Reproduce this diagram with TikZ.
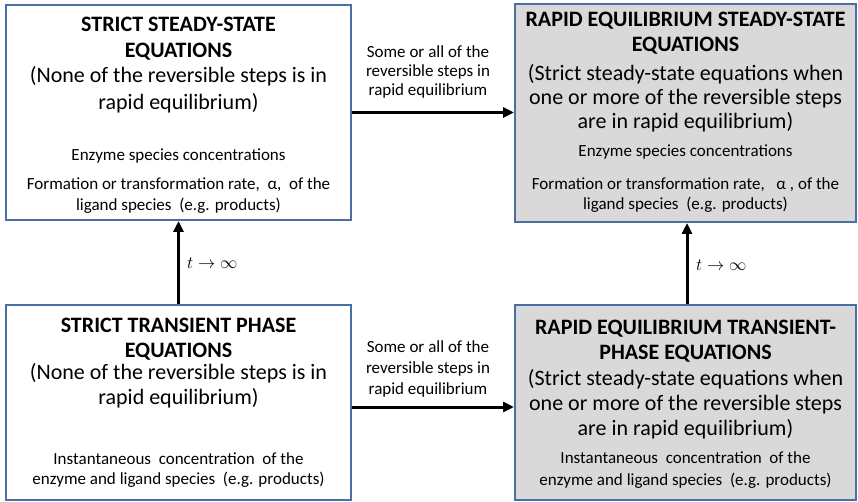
\documentclass[tikz,border=0pt]{standalone}
\usepackage{fontspec}
\setmainfont{Carlito}
\usetikzlibrary{arrows.meta,calc}
\definecolor{boxline}{HTML}{4A6FA5}
\definecolor{boxgray}{HTML}{D9D9D9}
\tikzset{
  box/.style={draw=boxline, line width=2pt, inner sep=0pt, rectangle},
  ttl/.style={anchor=base, inner sep=0pt, font=\fontsize{22}{26}\selectfont\bfseries},
  sub/.style={anchor=base, inner sep=0pt, font=\fontsize{22}{26}\selectfont},
  det/.style={anchor=base, inner sep=0pt, font=\fontsize{17}{20}\selectfont},
  tlab/.style={anchor=base west, inner sep=0pt, font=\fontsize{17.28}{20}\selectfont},
  arr/.style={line width=3pt, -{Triangle[length=11pt,width=10pt]}}
}
\begin{document}
\begin{tikzpicture}[x=1pt,y=-1pt]
\useasboundingbox (0,0) rectangle (858,502);
% boxes
\node[box, fill=white, minimum width=345pt, minimum height=215pt] (TL) at (178.5,112.5) {};
\node[box, fill=boxgray, minimum width=341pt, minimum height=218pt] (TR) at (685.5,113) {};
\node[box, fill=white, minimum width=345pt, minimum height=195pt] (BL) at (178.5,402.5) {};
\node[box, fill=boxgray, minimum width=341pt, minimum height=195pt] (BR) at (685.5,402.5) {};
% TL text
\node[ttl] (tlt1) at (178.5,32) {STRICT STEADY-STATE};
\node[ttl] (tlt2) at (178.5,58) {EQUATIONS};
\node[sub] (tls1) at (178.5,83) {(None of the reversible steps is in};
\node[sub] (tls2) at (178.5,110) {rapid equilibrium)};
\node[det] (tld1) at (178.5,161) {Enzyme species concentrations};
\node[det] (tld2) at (178.5,190) {Formation or transformation rate,\ \ α,\ \ of the};
\node[det] (tld3) at (178.5,211) {ligand species\ \ (e.g. products)};
% TR text
\node[ttl] (trt1) at (685.5,27) {RAPID EQUILIBRIUM STEADY-STATE};
\node[ttl] (trt2) at (685.5,52) {EQUATIONS};
\node[sub] (trs1) at (685.5,81) {(Strict steady-state equations when};
\node[sub] (trs2) at (685.5,105) {one or more of the reversible steps};
\node[sub] (trs3) at (685.5,129) {are in rapid equilibrium)};
\node[det] (trd1) at (685.5,157) {Enzyme species concentrations};
\node[det] (trd2) at (685.5,190) {Formation or transformation rate,\ \ \ α\ , of the};
\node[det] (trd3) at (685.5,210) {ligand species\ \ (e.g. products)};
% BL text
\node[ttl] (blt1) at (178.5,332) {STRICT TRANSIENT PHASE};
\node[ttl] (blt2) at (178.5,357) {EQUATIONS};
\node[sub] (bls1) at (178.5,379) {(None of the reversible steps is in};
\node[sub] (bls2) at (178.5,404) {rapid equilibrium)};
\node[det] (bld1) at (178.5,464) {Instantaneous\ \ concentration\ \ of the};
\node[det] (bld2) at (178.5,484) {enzyme and ligand species\ \ (e.g. products)};
% BR text
\node[ttl] (brt1) at (685.5,334) {RAPID EQUILIBRIUM TRANSIENT-};
\node[ttl] (brt2) at (685.5,359) {PHASE EQUATIONS};
\node[sub] (brs1) at (685.5,385) {(Strict steady-state equations when};
\node[sub] (brs2) at (685.5,410) {one or more of the reversible steps};
\node[sub] (brs3) at (685.5,435) {are in rapid equilibrium)};
\node[det] (brd1) at (685.5,463) {Instantaneous\ \ concentration\ \ of the};
\node[det] (brd2) at (685.5,485) {enzyme and ligand species\ \ (e.g. products)};
% connectors
\draw[arr] (TL.east) -- (TL.east -| TR.west);
\coordinate (b1) at ($(BL.east)+(0,4.5)$);
\draw[arr] (b1) -- (b1 -| BR.west);
\draw[arr] (BL.north) -- (TL.south);
\draw[arr] ([xshift=1.5pt]BR.north) -- ([xshift=1.5pt]TR.south);
% connector labels
\node[det] (lt1) at (428,57.5) {Some or all of the};
\node[det] (lt2) at (428,77) {reversible steps in};
\node[det] (lt3) at (428,96) {rapid equilibrium};
\node[det] (lb1) at (428,352) {Some or all of the};
\node[det] (lb2) at (428,373) {reversible steps in};
\node[det] (lb3) at (428,394) {rapid equilibrium};
\node[tlab] (tinf1) at (187,269) {$t\to\infty$};
\node[tlab] (tinf2) at (696,271) {$t\to\infty$};
\end{tikzpicture}
\end{document}
